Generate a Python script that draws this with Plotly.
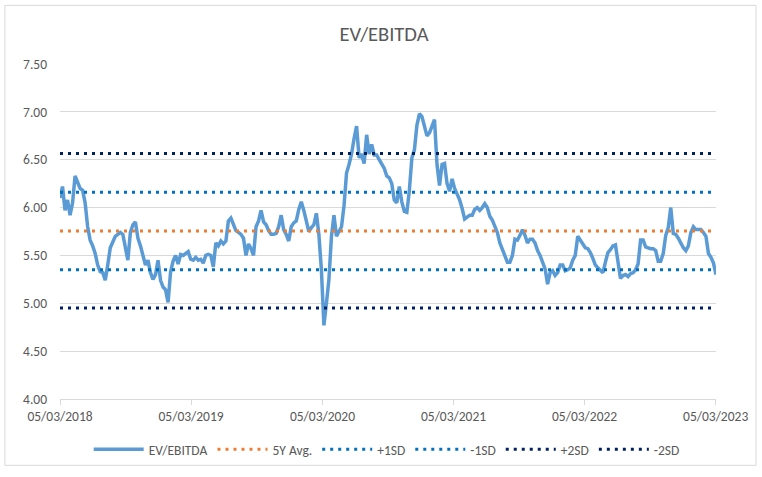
import pandas as pd
import plotly.graph_objects as go

# ---- data ----
start_date = "2018-03-05"
ev_ebitda = [
    6.10, 6.22, 5.97, 6.08, 5.92, 6.05, 6.33, 6.27, 6.20, 6.18,
    6.05, 5.80, 5.66, 5.60, 5.52, 5.40, 5.33, 5.32, 5.24, 5.40,
    5.58, 5.64, 5.70, 5.72, 5.74, 5.72, 5.60, 5.45, 5.74, 5.82,
    5.85, 5.68, 5.60, 5.48, 5.40, 5.45, 5.32, 5.25, 5.30, 5.45,
    5.24, 5.17, 5.14, 5.01, 5.33, 5.44, 5.50, 5.41, 5.51, 5.50,
    5.52, 5.54, 5.46, 5.45, 5.48, 5.45, 5.46, 5.42, 5.50, 5.51,
    5.50, 5.38, 5.63, 5.60, 5.65, 5.62, 5.65, 5.86, 5.89, 5.82,
    5.76, 5.74, 5.72, 5.68, 5.50, 5.62, 5.57, 5.50, 5.80, 5.86,
    5.97, 5.85, 5.82, 5.76, 5.72, 5.72, 5.73, 5.80, 5.92, 5.77,
    5.72, 5.65, 5.80, 5.84, 5.86, 5.98, 6.06, 5.97, 5.86, 5.75,
    5.79, 5.82, 5.94, 5.72, 5.35, 4.77, 5.00, 5.25, 5.70, 5.92,
    5.70, 5.75, 5.80, 6.02, 6.36, 6.45, 6.56, 6.72, 6.85, 6.52,
    6.56, 6.46, 6.76, 6.56, 6.66, 6.55, 6.55, 6.50, 6.45, 6.41,
    6.33, 6.31, 6.25, 6.08, 6.05, 6.22, 6.06, 5.96, 5.95, 6.18,
    6.52, 6.60, 6.86, 6.98, 6.95, 6.85, 6.75, 6.78, 6.84, 6.92,
    6.45, 6.23, 6.45, 6.46, 6.25, 6.17, 6.30, 6.20, 6.14, 6.08,
    5.99, 5.88, 5.90, 5.92, 5.92, 5.98, 6.00, 5.97, 6.00, 6.04,
    6.00, 5.91, 5.87, 5.81, 5.74, 5.63, 5.56, 5.48, 5.43, 5.43,
    5.50, 5.67, 5.66, 5.71, 5.77, 5.71, 5.63, 5.67, 5.67, 5.63,
    5.55, 5.50, 5.44, 5.36, 5.20, 5.32, 5.34, 5.29, 5.32, 5.40,
    5.40, 5.34, 5.35, 5.37, 5.45, 5.50, 5.70, 5.66, 5.62, 5.58,
    5.57, 5.53, 5.47, 5.40, 5.37, 5.35, 5.32, 5.43, 5.53, 5.56,
    5.60, 5.61, 5.45, 5.26, 5.29, 5.30, 5.28, 5.31, 5.32, 5.35,
    5.41, 5.66, 5.66, 5.59, 5.58, 5.57, 5.57, 5.55, 5.44, 5.44,
    5.52, 5.71, 5.79, 6.00, 5.73, 5.72, 5.68, 5.62, 5.58, 5.55,
    5.60, 5.74, 5.80, 5.77, 5.77, 5.77, 5.74, 5.70, 5.52, 5.48,
    5.42, 5.30,
]
dates = pd.date_range(start_date, periods=len(ev_ebitda), freq="7D")

avg_5y = 5.755
plus_1sd = 6.16
minus_1sd = 5.35
plus_2sd = 6.565
minus_2sd = 4.95

band_names = ["5Y Avg.", "+1SD", "-1SD", "+2SD", "-2SD"]
band_values = [avg_5y, plus_1sd, minus_1sd, plus_2sd, minus_2sd]
band_colors = ["#ED7D31", "#0070C0", "#0070C0", "#002060", "#002060"]

tick_dates = ["2018-03-05", "2019-03-05", "2020-03-05", "2021-03-05", "2022-03-05", "2023-03-05"]
tick_labels = ["05/03/2018", "05/03/2019", "05/03/2020", "05/03/2021", "05/03/2022", "05/03/2023"]

FONT = "Calibri, Carlito, Lato, sans-serif"
TXT = "#595959"

fig = go.Figure()
fig.add_trace(go.Scatter(
    x=dates, y=ev_ebitda, mode="lines", name="EV/EBITDA",
    line=dict(color="#5B9BD5", width=3.5),
))
for name, val, col in zip(band_names, band_values, band_colors):
    fig.add_trace(go.Scatter(
        x=[dates[0], dates[-1]], y=[val, val], mode="lines", name=name,
        line=dict(color=col, width=3, dash="3px,5px"),
    ))

# outer chart border
fig.add_shape(type="rect", xref="paper", yref="paper",
              x0=-0.084, x1=1.061, y0=-0.198, y1=1.175,
              line=dict(color="#D9D9D9", width=1), fillcolor="rgba(0,0,0,0)", layer="below")

fig.update_layout(
    width=762, height=477,
    margin=dict(l=60, r=46, t=64, b=74),
    paper_bgcolor="white", plot_bgcolor="white",
    font=dict(family=FONT, color=TXT, size=13.5),
    title=dict(text="EV/EBITDA", x=0.504, xanchor="center", xref="container",
               y=0.93, yanchor="middle", yref="container",
               font=dict(size=20.5, color=TXT, family=FONT)),
    showlegend=True,
    legend=dict(orientation="h", x=0.498, xanchor="center", y=-0.151, yanchor="middle",
                itemwidth=50,
                font=dict(size=13.5, color=TXT, family=FONT), bgcolor="rgba(0,0,0,0)"),
    xaxis=dict(
        type="date", range=["2018-03-05", "2023-03-06"],
        tickmode="array", tickvals=tick_dates, ticktext=tick_labels,
        showgrid=False, zeroline=False,
        showline=True, linecolor="#D9D9D9", linewidth=1,
        ticks="outside", ticklen=5, tickcolor="#D9D9D9",
        tickfont=dict(size=13.5, color=TXT, family=FONT),
    ),
    yaxis=dict(
        range=[4, 7.5], dtick=0.5, tickformat=".2f",
        showgrid=True, gridcolor="#D9D9D9", gridwidth=1,
        zeroline=False, showline=False, ticks="",
        ticklabelstandoff=12,
        tickfont=dict(size=13.5, color=TXT, family=FONT),
    ),
)

fig.write_html("out.html", config={"displayModeBar": False},
               post_script="document.body.style.margin='0px';")
